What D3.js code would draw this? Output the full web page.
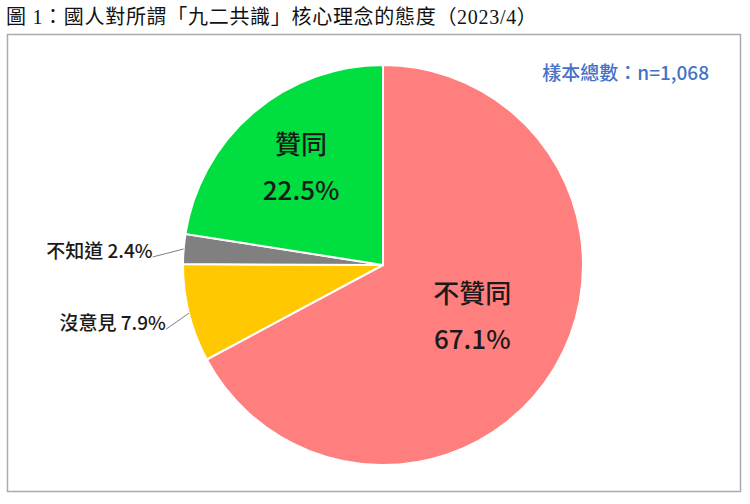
<!DOCTYPE html>
<html>
<head>
<meta charset="utf-8">
<style>
body { margin: 0; background: #fff; }
svg { display: block; }
</style>
<script src="https://d3js.org/d3.v7.min.js"></script>
</head>
<body>
<svg id="chart" width="750" height="504"></svg>
<script>
// data, clockwise from 12 o'clock
var categories = ["不贊同", "沒意見", "不知道", "贊同"];
var values = [67.1, 7.9, 2.4, 22.5];
var colors = ["#ff7f7f", "#ffc800", "#808080", "#00de40"];
var titleText = "圖 1：國人對所謂「九二共識」核心理念的態度（2023/4）";
var sampleText = "樣本總數：n=1,068";

var svg = d3.select("#chart");
var cx = 383, cy = 265, r = 200;

// title + frame
svg.append("text")
  .attr("x", 6).attr("y", 24)
  .attr("font-family", "'Liberation Serif', 'Noto Sans CJK TC', serif")
  .attr("font-size", 20)
  .attr("letter-spacing", 0.7)
  .attr("fill", "#111")
  .text(titleText);

svg.append("rect")
  .attr("x", 7.5).attr("y", 34.5)
  .attr("width", 733).attr("height", 457)
  .attr("fill", "none")
  .attr("stroke", "#aaa")
  .attr("stroke-width", 1.5);

svg.append("text")
  .attr("x", 709).attr("y", 80)
  .attr("text-anchor", "end")
  .attr("font-family", "'Noto Sans CJK TC', sans-serif")
  .attr("font-size", 19)
  .attr("font-weight", 500)
  .attr("fill", "#4472c4")
  .text(sampleText);

var rows = categories.map(function(c, i) {
  return { name: c, value: values[i], color: colors[i] };
});

var pie = d3.pie().sort(null).value(function(d) { return d.value; });
var arcs = pie(rows);
var arc = d3.arc().innerRadius(0).outerRadius(r);

var g = svg.append("g").attr("transform", "translate(" + cx + "," + cy + ")");

g.selectAll("path")
  .data(arcs)
  .enter()
  .append("path")
  .attr("d", arc)
  .attr("fill", function(d) { return d.data.color; })
  .attr("stroke", "#fff")
  .attr("stroke-width", 2);

// inside labels (big slices)
var insideR = { "不贊同": 0.52, "贊同": 0.63 };
arcs.filter(function(d) { return insideR[d.data.name]; }).forEach(function(d) {
  var lr = r * insideR[d.data.name];
  var c = d3.arc().innerRadius(lr).outerRadius(lr).centroid(d);
  var t = g.append("text")
    .attr("text-anchor", "middle")
    .attr("font-family", "'Noto Sans CJK TC', sans-serif")
    .attr("font-size", 26)
    .attr("font-weight", 500)
    .attr("fill", "#1a1a1a");
  t.append("tspan").attr("x", c[0]).attr("y", c[1] - 15).text(d.data.name);
  t.append("tspan").attr("x", c[0]).attr("y", c[1] + 31).text(d.data.value.toFixed(1) + "%");
});

// outside labels with leader lines (small slices)
var outsideOff = { "沒意見": [-23, 16], "不知道": [-31, 8] };
arcs.filter(function(d) { return outsideOff[d.data.name]; }).forEach(function(d) {
  var e = d3.arc().innerRadius(r).outerRadius(r).centroid(d);
  var off = outsideOff[d.data.name];
  var p = [e[0] + off[0], e[1] + off[1]];
  g.append("line")
    .attr("x1", e[0]).attr("y1", e[1])
    .attr("x2", p[0]).attr("y2", p[1])
    .attr("stroke", "#7f7f7f")
    .attr("stroke-width", 1);
  g.append("text")
    .attr("x", p[0]).attr("y", p[1] + 1)
    .attr("text-anchor", "end")
    .attr("font-family", "'Noto Sans CJK TC', sans-serif")
    .attr("font-size", 19)
    .attr("font-weight", 500)
    .attr("fill", "#1a1a1a")
    .text(d.data.name + " " + d.data.value.toFixed(1) + "%");
});
</script>
</body>
</html>
